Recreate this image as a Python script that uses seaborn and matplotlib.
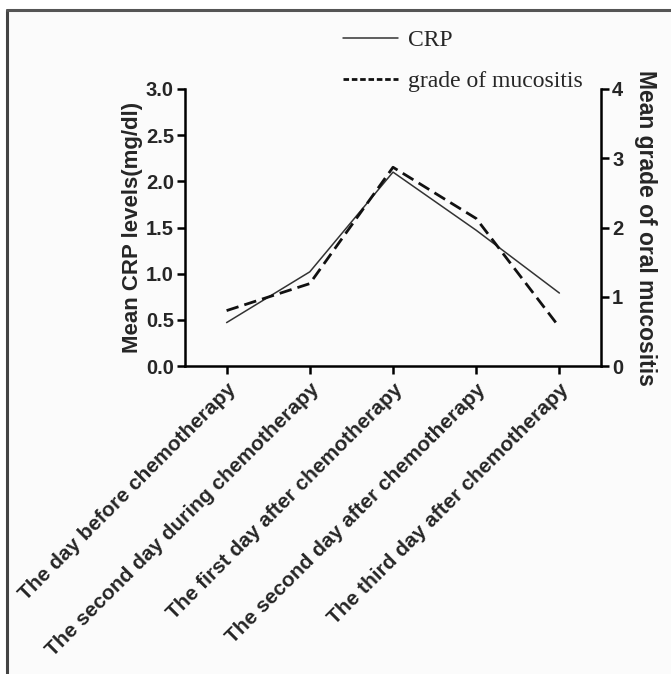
import matplotlib
matplotlib.use("Agg")
import matplotlib.pyplot as plt
from matplotlib.lines import Line2D
import seaborn as sns
import pandas as pd

days = [
    "The day before chemotherapy",
    "The second day during chemotherapy",
    "The first day after chemotherapy",
    "The second day after chemotherapy",
    "The third day after chemotherapy",
]
crp = [0.47, 1.02, 2.10, 1.47, 0.79]
mucositis = [0.80, 1.19, 2.87, 2.13, 0.56]

df = pd.DataFrame({"day": days, "crp": crp, "mucositis": mucositis})

sns.set_theme(style="ticks")
plt.rcParams["font.family"] = ["Liberation Sans", "DejaVu Sans"]

fig = plt.figure(figsize=(6.71, 6.74), dpi=100)
fig.patch.set_facecolor("white")

# light panel with a dark top/left edge, like the scanned figure
panel = plt.Rectangle((6.5 / 671, 0), 1, 1 - 9.5 / 674, transform=fig.transFigure,
                      facecolor="#fbfbfb", edgecolor="none", zorder=-2)
fig.patches.append(panel)
fig.add_artist(Line2D([6.5 / 671, 6.5 / 671], [0, 1 - 9.5 / 674], color="#444444", lw=2.2))
fig.add_artist(Line2D([6.5 / 671, 1], [1 - 9.5 / 674, 1 - 9.5 / 674], color="#555555", lw=2.2))

ax = fig.add_axes([185 / 671, 1 - 366 / 674, 416 / 671, 277 / 674])
ax.set_facecolor("none")
ax2 = ax.twinx()

sns.lineplot(data=df, x="day", y="crp", ax=ax, color="#333333", lw=1.1, sort=False)
sns.lineplot(data=df, x="day", y="mucositis", ax=ax2, color="#111111", lw=2.0,
             linestyle=(0, (4.5, 2.2)), sort=False)

ax.set_xlim(-0.5, 4.5)
ax.set_ylim(0, 3.0)
ax2.set_ylim(0, 4)
ax.set_yticks([0, 0.5, 1.0, 1.5, 2.0, 2.5, 3.0])
ax.set_yticklabels([f"{v:.1f}" for v in [0, 0.5, 1.0, 1.5, 2.0, 2.5, 3.0]])
ax2.set_yticks([0, 1, 2, 3, 4])

ax.set_xticks(range(len(days)))
ax.set_xticklabels(days, rotation=45, ha="right", rotation_mode="anchor",
                   fontsize=15, fontweight="bold")
ax.set_xlabel("")
ax.set_ylabel("Mean CRP levels(mg/dl)", fontsize=16, fontweight="bold", labelpad=2)
ax2.set_ylabel("Mean grade of oral mucositis", fontsize=16.5, fontweight="bold",
               rotation=270, labelpad=24)

for a in (ax, ax2):
    a.tick_params(axis="y", labelsize=14.5, width=1.8, length=6, color="black", pad=2)
    a.tick_params(axis="x", width=1.8, length=6, color="black", pad=4)
    for lab in a.get_yticklabels():
        lab.set_fontweight("bold")
    for s in a.spines.values():
        s.set_linewidth(1.8)
        s.set_color("black")
    a.spines["top"].set_visible(False)
ax.spines["right"].set_visible(False)
ax2.spines["left"].set_visible(False)
ax2.spines["bottom"].set_visible(False)

handles = [
    Line2D([], [], color="#333333", lw=1.1),
    Line2D([], [], color="#111111", lw=2.0, linestyle=(0, (2, 1))),
]
fig.legend(handles, ["CRP", "grade of mucositis"], loc="upper left",
           bbox_to_anchor=(322 / 671, 1 - 8 / 674), frameon=False,
           prop={"family": "Liberation Serif", "size": 17},
           handlelength=2.3, handletextpad=0.45, labelspacing=0.85)

fig.savefig("out.png", dpi=100, facecolor=fig.get_facecolor())
